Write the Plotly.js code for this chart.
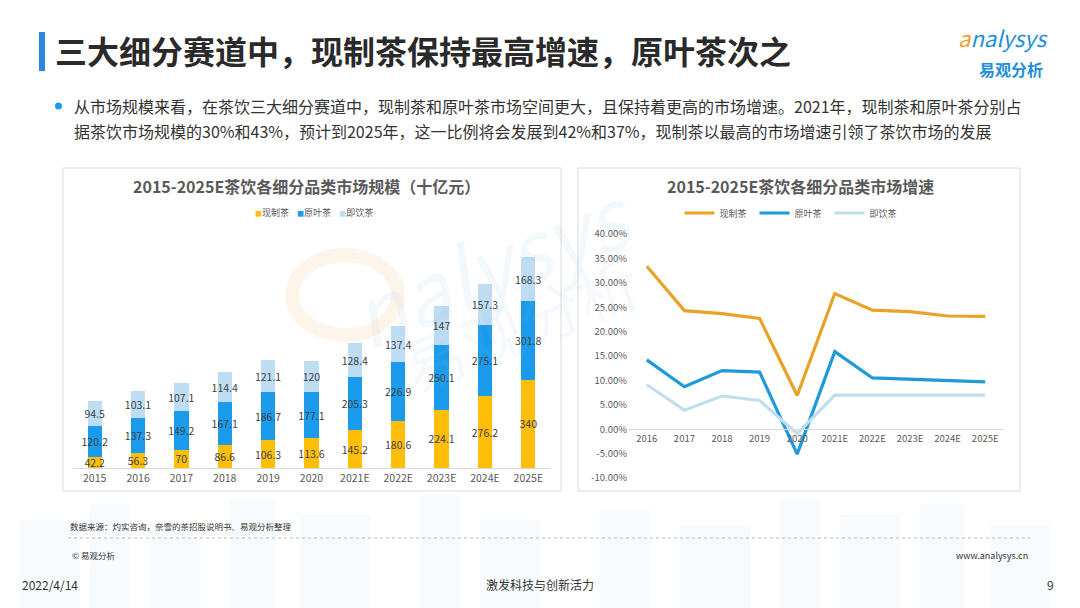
<!DOCTYPE html>
<html>
<head>
<meta charset="utf-8">
<script src="https://cdn.plot.ly/plotly-3.0.1.min.js"></script>
<style>
html,body{margin:0;padding:0;background:#fff;}
#chart{width:1080px;height:608px;}
</style>
</head>
<body>
<div id="chart"></div>
<script>
// ---- data ----
var years = ['2015','2016','2017','2018','2019','2020','2021E','2022E','2023E','2024E','2025E'];
var freshTea = [42.2, 56.3, 70, 86.6, 106.3, 113.6, 145.2, 180.6, 224.1, 276.2, 340];
var leafTea  = [120.2, 137.3, 149.2, 167.1, 186.7, 177.1, 205.3, 226.9, 250.1, 275.1, 301.8];
var rtdTea   = [94.5, 103.1, 107.1, 114.4, 121.1, 120, 128.4, 137.4, 147, 157.3, 168.3];

var growthYears = ['2016','2017','2018','2019','2020','2021E','2022E','2023E','2024E','2025E'];
var freshGrowth = [33.4, 24.3, 23.7, 22.7, 6.9, 27.8, 24.4, 24.1, 23.2, 23.1];
var leafGrowth  = [14.2, 8.7, 12.0, 11.7, -5.1, 15.9, 10.5, 10.2, 10.0, 9.7];
var rtdGrowth   = [9.1, 3.9, 6.8, 5.9, -0.9, 7.0, 7.0, 7.0, 7.0, 7.0];

var seriesNames = ['现制茶', '原叶茶', '即饮茶'];
var barColors = ['#FFBE0A', '#1A9BEC', '#BEDDF3'];
var lineColors = ['#E9A126', '#1F9AD8', '#C2DEEC'];
var gTicks = [-10, -5, 0, 5, 10, 15, 20, 25, 30, 35, 40];

var FONT = '"Noto Sans CJK SC", "Noto Sans", sans-serif';
var W = 1080, H = 608;
function px(x){ return x / W; }
function py(y){ return 1 - y / H; }

function barTrace(vals, name, color){
  return {
    type: 'bar', x: years, y: vals, name: name,
    xaxis: 'x', yaxis: 'y', showlegend: false,
    marker: {color: color},
    text: vals.map(function(v){ return String(v); }),
    textposition: 'inside', insidetextanchor: 'middle',
    textangle: 0, constraintext: 'none', cliponaxis: false,
    textfont: {family: FONT, size: 10.5, color: '#404040'},
    hoverinfo: 'skip'
  };
}
function lineTrace(vals, name, color){
  return {
    type: 'scatter', mode: 'lines', x: growthYears, y: vals, name: name,
    xaxis: 'x2', yaxis: 'y2', legend: 'legend2',
    line: {color: color, width: 3.2},
    hoverinfo: 'skip'
  };
}

var data = [
  barTrace(freshTea, seriesNames[0], barColors[0]),
  barTrace(leafTea, seriesNames[1], barColors[1]),
  barTrace(rtdTea, seriesNames[2], barColors[2]),
  lineTrace(freshGrowth, seriesNames[0], lineColors[0]),
  lineTrace(leafGrowth, seriesNames[1], lineColors[1]),
  lineTrace(rtdGrowth, seriesNames[2], lineColors[2])
];

var ann = [];
function txt(x, y, s, size, color, opts){
  var a = {xref:'paper', yref:'paper', x:px(x), y:py(y), text:s, showarrow:false,
    xanchor:'left', yanchor:'middle', font:{family:FONT, size:size, color:color}};
  if (opts) for (var k in opts) a[k] = opts[k];
  return a;
}
// watermark (drawn first, faint)
ann.push(txt(490, 262, '<i>nalysys</i>', 84, 'rgba(140,190,230,0.10)', {xanchor:'center', textangle:-22}));
ann.push(txt(520, 322, '易观分析', 62, 'rgba(140,190,230,0.09)', {xanchor:'center', textangle:-22}));
// header
ann.push(txt(53, 50, '<b>三大细分赛道中，现制茶保持最高增速，原叶茶次之</b>', 32, '#2A2A2A'));
ann.push(txt(72, 106, '从市场规模来看，在茶饮三大细分赛道中，现制茶和原叶茶市场空间更大，且保持着更高的市场增速。2021年，现制茶和原叶茶分别占', 16, '#333333'));
ann.push(txt(72, 131, '据茶饮市场规模的30%和43%，预计到2025年，这一比例将会发展到42%和37%，现制茶以最高的市场增速引领了茶饮市场的发展', 16, '#333333'));
// logo
ann.push(txt(956, 37, '<i><span style="color:#F0A030">a</span>nalysys</i>', 22, '#1E8FD8'));
ann.push(txt(977, 69, '<b>易观分析</b>', 16, '#1E8FD8'));
// chart titles
ann.push(txt(306, 186, '<b>2015-2025E茶饮各细分品类市场规模（十亿元）</b>', 16, '#595959', {xanchor:'center'}));
ann.push(txt(800, 186, '<b>2015-2025E茶饮各细分品类市场增速</b>', 16, '#595959', {xanchor:'center'}));
// bar chart legend
var legendParts = seriesNames.map(function(n, i){
  return '<span style="color:' + barColors[i] + ';font-size:7px">■</span>' + n;
});
ann.push(txt(314, 213, legendParts.join('    '), 9, '#595959', {xanchor:'center'}));
// footer
ann.push(txt(68, 526, '数据来源：灼实咨询，奈雪的茶招股说明书、易观分析整理', 8.5, '#333333'));
ann.push(txt(70, 555, '© 易观分析', 8.5, '#333333'));
ann.push(txt(1030, 555, 'www.analysys.cn', 9, '#333333', {xanchor:'right'}));
ann.push(txt(20, 584, '2022/4/14', 12, '#333333'));
ann.push(txt(540, 584, '激发科技与创新活力', 12, '#333333', {xanchor:'center'}));
ann.push(txt(1056, 584, '9', 12, '#333333', {xanchor:'right'}));

var shapes = [
  // title accent bar
  {type:'rect', xref:'paper', yref:'paper', x0:px(39), x1:px(45), y0:py(71), y1:py(32),
   fillcolor:'#2C86DC', line:{width:0}},
  // bullet
  {type:'circle', xref:'paper', yref:'paper', x0:px(55), x1:px(62), y0:py(109.5), y1:py(102.5),
   fillcolor:'#1A9BEC', line:{width:0}},
  // panels
  {type:'rect', xref:'paper', yref:'paper', x0:px(63), x1:px(561), y0:py(491), y1:py(168),
   fillcolor:'rgba(0,0,0,0)', line:{color:'#D9D9D9', width:1}, layer:'below'},
  {type:'rect', xref:'paper', yref:'paper', x0:px(578), x1:px(1020), y0:py(491), y1:py(168),
   fillcolor:'rgba(0,0,0,0)', line:{color:'#D9D9D9', width:1}, layer:'below'},
  // footer dotted line
  {type:'line', xref:'paper', yref:'paper', x0:px(68), x1:px(1030), y0:py(538), y1:py(538),
   line:{color:'#BBBBBB', width:1, dash:'dot'}},
  // watermark arc
  {type:'circle', xref:'paper', yref:'paper', x0:px(292), x1:px(398), y0:py(335), y1:py(255),
   fillcolor:'rgba(0,0,0,0)', line:{color:'rgba(245,175,90,0.13)', width:14}, layer:'below'}
];
// faint skyline in background
var sky = [[20,520,60],[90,505,40],[150,530,50],[230,500,45],[300,515,70],[420,495,40],[480,520,60],
           [600,510,50],[680,525,70],[780,500,40],[840,515,60],[920,505,45],[990,525,60]];
sky.forEach(function(b){
  shapes.push({type:'rect', xref:'paper', yref:'paper', x0:px(b[0]), x1:px(b[0]+b[2]), y0:0, y1:py(b[1]),
    fillcolor:'rgba(225,238,247,0.22)', line:{width:0}, layer:'below'});
});

var layout = {
  width: W, height: H,
  margin: {l:0, r:0, t:0, b:0},
  paper_bgcolor: '#ffffff', plot_bgcolor: 'rgba(0,0,0,0)',
  font: {family: FONT, color: '#595959'},
  barmode: 'stack', bargap: 0.67,
  showlegend: true,
  hovermode: false,
  xaxis: {domain:[px(73), px(550)], anchor:'y', type:'category', range:[-0.5, 10.5],
    showline:true, linecolor:'#D9D9D9', linewidth:1, ticks:'', showgrid:false,
    tickfont:{family:FONT, size:10.5, color:'#595959'}, fixedrange:true},
  yaxis: {domain:[py(468), py(234)], anchor:'x', range:[0, 900], visible:false, fixedrange:true},
  xaxis2: {domain:[px(628), px(1004)], anchor:'free', position:py(429.3), type:'category',
    range:[-0.5, 9.5],
    showline:true, linecolor:'#D9D9D9', linewidth:1, ticks:'', showgrid:false,
    tickfont:{family:FONT, size:9.5, color:'#595959'}, fixedrange:true},
  yaxis2: {domain:[py(478), py(234)], anchor:'x2', range:[-10, 40], tickvals:gTicks,
    ticktext:gTicks.map(function(v){ return v.toFixed(2) + '%'; }),
    showgrid:false, zeroline:false, showline:false, ticks:'',
    tickfont:{family:FONT, size:9.5, color:'#595959'}, fixedrange:true},
  legend2: {orientation:'h', x:px(792), y:py(213), xanchor:'center', yanchor:'middle',
    traceorder:'normal', entrywidth:30, entrywidthmode:'pixels',
    font:{family:FONT, size:9, color:'#595959'}, itemwidth:30, bgcolor:'rgba(0,0,0,0)'},
  annotations: ann,
  shapes: shapes
};

Plotly.newPlot('chart', data, layout, {displayModeBar:false, staticPlot:true});
</script>
</body>
</html>
